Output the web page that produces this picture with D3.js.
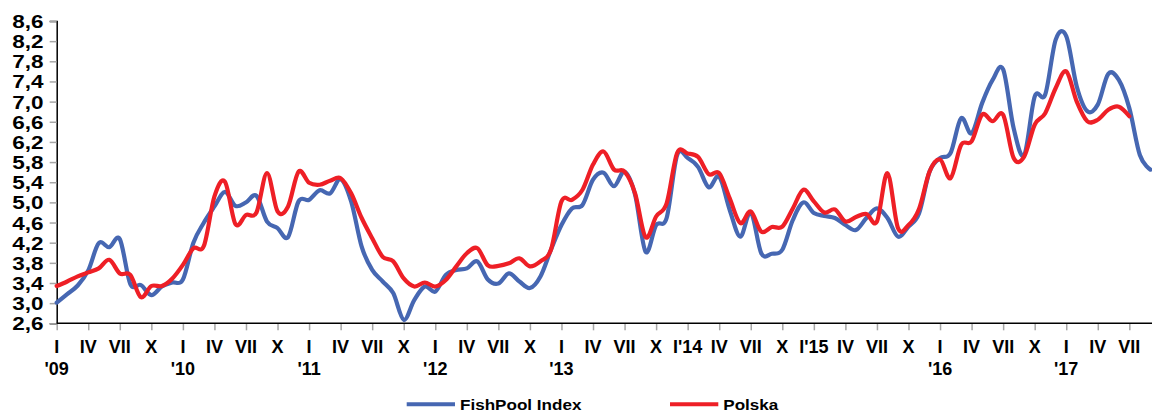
<!DOCTYPE html>
<html>
<head>
<meta charset="utf-8">
<script src="https://cdn.jsdelivr.net/npm/d3@7"></script>
<style>
  html, body { margin: 0; padding: 0; background: #fff; }
  svg { display: block; }
  text { font-family: "Liberation Sans", Arial, sans-serif; font-weight: bold; fill: #000; }
</style>
</head>
<body>
<svg id="chart" width="1152" height="412"></svg>
<script>
// Monthly prices, January 2009 – September 2017
const fishPool = [
  3.01, 3.18, 3.35, 3.65, 4.19, 4.11, 4.27, 3.38, 3.36, 3.16, 3.33, 3.41,
  3.47, 4.20, 4.60, 4.92, 5.21, 4.93, 5.00, 5.13, 4.62, 4.49, 4.31, 5.02,
  5.05, 5.24, 5.18, 5.46, 5.02, 4.12, 3.66, 3.43, 3.20, 2.67, 3.06, 3.33,
  3.23, 3.56, 3.66, 3.69, 3.83, 3.47, 3.39, 3.59, 3.43, 3.30, 3.53, 4.06,
  4.55, 4.88, 4.95, 5.45, 5.59, 5.32, 5.61, 5.15, 4.02, 4.55, 4.69, 5.94,
  5.88, 5.70, 5.30, 5.51, 4.85, 4.32, 4.80, 3.99, 3.98, 4.06, 4.65, 5.00,
  4.79, 4.73, 4.69, 4.55, 4.45, 4.69, 4.88, 4.69, 4.32, 4.52, 4.78, 5.61,
  5.88, 5.98, 6.67, 6.37, 6.97, 7.43, 7.64, 6.47, 5.94, 7.10, 7.14, 8.23,
  8.30, 7.30, 6.81, 6.94, 7.55, 7.43, 6.87, 5.94, 5.65
];

const polska = [
  3.34, 3.43, 3.53, 3.61, 3.69, 3.86, 3.59, 3.56, 3.12, 3.34, 3.34, 3.49,
  3.76, 4.09, 4.14, 5.12, 5.41, 4.57, 4.75, 4.80, 5.58, 4.82, 4.92, 5.61,
  5.39, 5.35, 5.43, 5.48, 5.18, 4.69, 4.29, 3.92, 3.83, 3.49, 3.33, 3.41,
  3.33, 3.46, 3.73, 3.99, 4.09, 3.75, 3.74, 3.79, 3.89, 3.73, 3.83, 4.06,
  5.02, 5.05, 5.25, 5.75, 6.01, 5.65, 5.61, 5.18, 4.31, 4.72, 4.98, 5.98,
  5.97, 5.90, 5.56, 5.58, 5.08, 4.59, 4.82, 4.42, 4.51, 4.52, 4.88, 5.25,
  5.02, 4.80, 4.86, 4.62, 4.71, 4.77, 4.62, 5.58, 4.49, 4.55, 4.87, 5.61,
  5.85, 5.48, 6.14, 6.21, 6.74, 6.61, 6.74, 5.88, 5.91, 6.54, 6.77, 7.27,
  7.60, 7.00, 6.61, 6.64, 6.84, 6.90, 6.71
];

// Quarter labels (first row) and year labels (second row), one per quarterly tick
const quarterLabels = [
  "I","IV","VII","X", "I","IV","VII","X", "I","IV","VII","X",
  "I","IV","VII","X", "I","IV","VII","X", "I'14","IV","VII","X",
  "I'15","IV","VII","X", "I","IV","VII","X", "I","IV","VII"
];
const yearLabels = [
  "'09","","","", "'10","","","", "'11","","","",
  "'12","","","", "'13","","","", "","","","",
  "","","","", "'16","","","", "'17","",""
];

const yTicks = [2.6, 3.0, 3.4, 3.8, 4.2, 4.6, 5.0, 5.4, 5.8, 6.2, 6.6, 7.0, 7.4, 7.8, 8.2, 8.6];

const series = [
  { name: "FishPool Index", values: fishPool, color: "#4667B2" },
  { name: "Polska",         values: polska,   color: "#EE1F26" }
];

const svg = d3.select("#chart");
const left = 56.7, plotTop = 21, plotBottom = 323.3;
const monthStep = 10.516;

const x = d3.scaleLinear().domain([0, 104]).range([left, left + 104 * monthStep]);
const y = d3.scaleLinear().domain([2.6, 8.6]).range([plotBottom, plotTop]);

const fmt = v => d3.format(".1f")(v).replace(".", ",");

// Y axis
const yAxis = svg.append("g").attr("transform", `translate(${left},0)`)
  .call(d3.axisLeft(y).tickValues(yTicks).tickFormat(fmt).tickSize(7).tickPadding(6));
yAxis.select(".domain").attr("stroke", "#000").attr("stroke-width", 1.5);
yAxis.selectAll(".tick line").attr("stroke", "#a6a6a6").attr("stroke-width", 1.5);
yAxis.selectAll(".tick text")
  .attr("font-size", 18)
  .attr("dy", "0.36em")
  .attr("x", 0)
  .attr("transform", "translate(-13.2,0) scale(1.25,1)");

// X axis (quarterly ticks)
const tickIdx = quarterLabels.map((_, i) => i * 3);
const xAxis = svg.append("g").attr("transform", `translate(0,${plotBottom})`)
  .call(d3.axisBottom(x).tickValues(tickIdx).tickSize(7).tickFormat(""));
xAxis.select(".domain").remove();
xAxis.selectAll(".tick line").attr("stroke", "#a6a6a6").attr("stroke-width", 1.5);
svg.append("line")
  .attr("x1", left).attr("x2", 1152)
  .attr("y1", plotBottom).attr("y2", plotBottom)
  .attr("stroke", "#000").attr("stroke-width", 1.5);

const labelG = svg.append("g");
labelG.selectAll("text.q").data(tickIdx).join("text")
  .attr("class", "q")
  .attr("text-anchor", "middle")
  .attr("font-size", 18)
  .attr("x", d => x(d))
  .attr("y", 353)
  .text((d, i) => quarterLabels[i]);
labelG.selectAll("text.yr").data(tickIdx.filter((d, i) => yearLabels[i] !== "")).join("text")
  .attr("class", "yr")
  .attr("text-anchor", "middle")
  .attr("font-size", 18)
  .attr("x", d => x(d))
  .attr("y", 375)
  .text(d => yearLabels[tickIdx.indexOf(d)]);

// Smoothed lines
const line = d3.line()
  .x((d, i) => x(i))
  .y(d => y(d))
  .curve(d3.curveCardinal.tension(0));

svg.append("g").selectAll("path").data(series).join("path")
  .attr("d", s => line(s.values))
  .attr("fill", "none")
  .attr("stroke", s => s.color)
  .attr("stroke-width", 4.2)
  .attr("stroke-linejoin", "round")
  .attr("stroke-linecap", "round");

// Legend
const legend = svg.append("g");
const legendItems = [
  { s: series[0], x1: 406.7, x2: 455, tx: 460 },
  { s: series[1], x1: 670, x2: 718.3, tx: 723.3 }
];
legendItems.forEach(it => {
  legend.append("line")
    .attr("x1", it.x1).attr("x2", it.x2)
    .attr("y1", 404.3).attr("y2", 404.3)
    .attr("stroke", it.s.color).attr("stroke-width", 4);
  legend.append("text")
    .attr("transform", `translate(${it.tx},409.5) scale(1.22,1)`)
    .attr("font-size", 14)
    .text(it.s.name);
});
</script>
</body>
</html>
